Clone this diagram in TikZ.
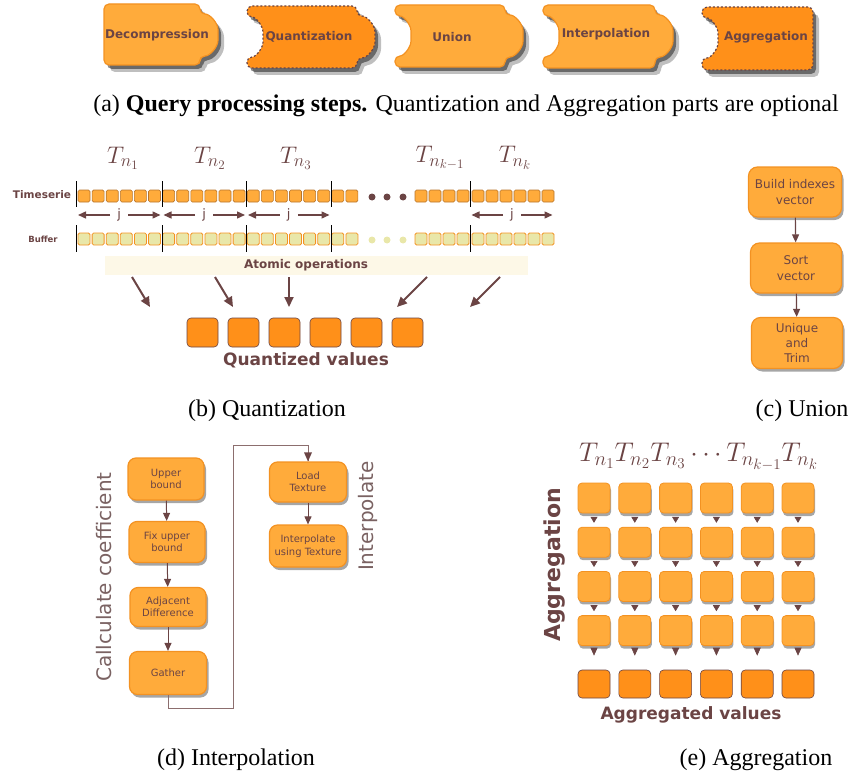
\RequirePackage{fix-cm}
\documentclass[tikz,border=0pt]{standalone}
\usepackage[no-math]{fontspec}
\setmainfont{Liberation Serif}
\newfontfamily\dvs{DejaVu Sans}
\usetikzlibrary{shadows,arrows.meta}
\DeclareMathSizes{24}{24}{18}{13}
\DeclareMathSizes{27}{27}{20}{15}

\definecolor{lightorange}{HTML}{FFAB3B}
\definecolor{edgeorange}{HTML}{F39222}
\definecolor{darkorange}{HTML}{FF9019}
\definecolor{stepbrown}{HTML}{6B4444}
\definecolor{celledge}{HTML}{B8742A}
\definecolor{bufferfill}{HTML}{E9E7A9}
\definecolor{atomfill}{HTML}{FDF8E7}
\definecolor{wirebrown}{HTML}{8C6E6E}
\definecolor{labelgray}{HTML}{7A6262}

\tikzset{
  piece/.style={fill=lightorange,draw=edgeorange,line width=1.2pt,rounded corners=5pt,
    drop shadow={shadow xshift=3pt,shadow yshift=-4pt,opacity=.45,fill=black},
    drop shadow={shadow xshift=6pt,shadow yshift=-7pt,opacity=.25,fill=black}},
  optpiece/.style={piece,fill=darkorange,draw=stepbrown,dash pattern=on 2pt off 2pt},
  steptext/.style={font=\dvs\bfseries\fontsize{12}{14}\selectfont,text=stepbrown},
  flowbox/.style={rectangle,rounded corners=9pt,fill=lightorange,draw=edgeorange,line width=1.2pt,
    text=stepbrown,align=center,inner sep=2pt,
    drop shadow={shadow xshift=2pt,shadow yshift=-3pt,opacity=.35,fill=black}},
  flowarrow/.style={draw=stepbrown,line width=1.2pt,-{Triangle[length=8pt,width=7pt]}},
  caption/.style={font=\fontsize{24}{28}\selectfont,text=black}
}

% tab on the right side, notch on the left side
\newcommand{\tabpart}[2]{(#1,#2-21) .. controls (#1+10,#2-21) and (#1+18,#2-12) .. (#1+18,#2)
    .. controls (#1+18,#2+12) and (#1+10,#2+21) .. (#1,#2+21)}
\newcommand{\notchpart}[2]{(#1,#2+20) .. controls (#1+9,#2+20) and (#1+16,#2+11) .. (#1+16,#2)
    .. controls (#1+16,#2-11) and (#1+9,#2-20) .. (#1,#2-20)}

\begin{document}
\begin{tikzpicture}[x=1pt,y=-1pt]
    \useasboundingbox (0,0) rectangle (850,778);

    %Shape: Puzzle pieces (a)
    \path[piece] (152,4) -- (200,4) -- \tabpart{200}{35} -- (200,65) -- (104,65) -- (104,4) -- cycle;
    \path[optpiece] (302,6) -- (357,6) -- \tabpart{357}{37} -- (357,68) -- (247,68) -- \notchpart{247}{37} -- (247,6) -- cycle;
    \path[piece] (450,5) -- (505,5) -- \tabpart{505}{36} -- (505,67) -- (395,67) -- \notchpart{395}{36} -- (395,5) -- cycle;
    \path[piece] (599,5) -- (655,5) -- \tabpart{655}{36} -- (655,68) -- (543,68) -- \notchpart{543}{36} -- (543,5) -- cycle;
    \path[optpiece] (757,7) -- (813,7) -- (813,70) -- (702,70) -- \notchpart{702}{38} -- (702,7) -- cycle;
    % Text Node
    \node[steptext] (decomp) at (157,35) {Decompression};
    \node[steptext] (quant) at (309,37) {Quantization};
    \node[steptext] (union) at (452,37) {Union};
    \node[steptext] (interp) at (606,34) {Interpolation};
    \node[steptext] (aggr) at (766,37) {Aggregation};
    % Text Node
    \node[caption] (capa) at (466,106) {(a) \textbf{Query processing steps.} Quantization and Aggregation parts are optional};

    %Shape: Timeserie and Buffer cells (b)
    \foreach \i in {0,...,19} {
      \draw[fill=lightorange,draw=celledge,line width=.6pt,rounded corners=1.5pt] ({78+14.1*\i},190) rectangle ++(12,12);
      \draw[fill=bufferfill,draw=edgeorange,line width=.8pt,rounded corners=1.5pt] ({78+14.1*\i},233) rectangle ++(12,12);
    }
    \foreach \x in {415,429,443,457,472,486,500,514,528,542} {
      \draw[fill=lightorange,draw=celledge,line width=.6pt,rounded corners=1.5pt] (\x,190) rectangle ++(12,12);
      \draw[fill=bufferfill,draw=edgeorange,line width=.8pt,rounded corners=1.5pt] (\x,233) rectangle ++(12,12);
    }
    \foreach \x in {372,387,403} {
      \fill[stepbrown] (\x,197) circle (3.5);
      \fill[bufferfill] (\x,240) circle (3.5);
    }
    %Straight Lines: group borders
    \foreach \x in {76.5,162,246.5,331,470} {
      \draw[black,line width=.8pt] (\x,181) -- (\x,207) (\x,225) -- (\x,252);
    }
    % j arrows
    \foreach \a/\b/\n in {76.5/162/1,162/246.5/2,246.5/331/3,470/554/4} {
      \node[font=\dvs\fontsize{13}{15}\selectfont,text=stepbrown,inner xsep=7pt,inner ysep=1pt] (j\n) at ({(\a+\b)/2},215) {j};
      \coordinate (jl\n) at (\a+1.5,215);
      \coordinate (jr\n) at (\b-1.5,215);
      \draw[flowarrow,line width=1.4pt] (j\n.west) -- (jl\n);
      \draw[flowarrow,line width=1.4pt] (j\n.east) -- (jr\n);
    }
    % Text Node
    \node[font=\dvs\bfseries\fontsize{10.5}{12}\selectfont,text=stepbrown] (tslabel) at (42,195) {Timeserie};
    \node[font=\dvs\bfseries\fontsize{8.5}{10}\selectfont,text=stepbrown] (buflabel) at (43,239) {Buffer};
    \foreach \x/\t in {123/{T_{n_1}},210/{T_{n_2}},296/{T_{n_3}},440/{T_{n_{k-1}}},515/{T_{n_k}}} {
      \node[font=\fontsize{24}{28}\selectfont,text=stepbrown] at (\x,158) {$\t$};
    }
    %Shape: Atomic operations band
    \fill[atomfill] (105,256) rectangle (528,275);
    \node[font=\dvs\bfseries\fontsize{12}{14}\selectfont,text=stepbrown] (atomic) at (306,265) {Atomic operations};
    \foreach \sx/\ex/\ey [count=\k] in {132/150/307,215/233/307,289/289/307,427/397/307,500/470/307} {
      \coordinate (as\k) at (\sx,277);
      \coordinate (ae\k) at (\ex,\ey);
      \draw[draw=stepbrown,line width=2pt,-{Triangle[length=10pt,width=9pt]}] (as\k) -- (ae\k);
    }
    %Shape: Quantized values
    \foreach \i in {0,...,5} {
      \node[rectangle,rounded corners=4pt,fill=darkorange,draw=stepbrown,line width=.6pt,
        minimum width=31pt,minimum height=29pt] (q\i) at ({202.5+41*\i},332.5) {};
    }
    \node[font=\dvs\bfseries\fontsize{17}{19}\selectfont,text=stepbrown] (qvalues) at (306,360) {Quantized values};
    % Text Node
    \node[caption] (capb) at (267,411) {(b) Quantization};

    %Union flowchart (c)
    \node[flowbox,minimum width=93pt,minimum height=50pt,font=\dvs\fontsize{12}{16}\selectfont] (build) at (795,192) {Build indexes\\vector};
    \node[flowbox,minimum width=91pt,minimum height=50pt,font=\dvs\fontsize{12}{16}\selectfont] (sort) at (796,268) {Sort\\vector};
    \node[flowbox,minimum width=91pt,minimum height=51pt,font=\dvs\fontsize{12}{15}\selectfont] (unique) at (797,343) {Unique\\and\\Trim};
    \draw[flowarrow] (build) -- (sort);
    \draw[flowarrow] (sort) -- (unique);
    % Text Node
    \node[caption] (capc) at (802,411) {(c) Union};

    %Interpolation flowchart (d)
    \node[flowbox,rounded corners=8pt,minimum width=76pt,minimum height=42pt,font=\dvs\fontsize{10}{12.5}\selectfont] (upper) at (166,479) {Upper\\bound};
    \node[flowbox,rounded corners=8pt,minimum width=76pt,minimum height=41pt,font=\dvs\fontsize{10}{12.5}\selectfont] (fixup) at (167,542) {Fix upper\\bound};
    \node[flowbox,rounded corners=8pt,minimum width=76pt,minimum height=39pt,font=\dvs\fontsize{10}{12.5}\selectfont] (adjdiff) at (168,607) {Adjacent\\Difference};
    \node[flowbox,rounded corners=8pt,minimum width=77pt,minimum height=43pt,font=\dvs\fontsize{10}{12.5}\selectfont] (gather) at (168,673) {Gather};
    \node[flowbox,rounded corners=8pt,minimum width=77pt,minimum height=40pt,font=\dvs\fontsize{10}{12.5}\selectfont] (loadtex) at (308,482) {Load\\Texture};
    \node[flowbox,rounded corners=8pt,minimum width=77pt,minimum height=42pt,font=\dvs\fontsize{10}{12.5}\selectfont] (usetex) at (308,546) {Interpolate\\using Texture};
    \draw[flowarrow,line width=1pt] (upper) -- (fixup);
    \draw[flowarrow,line width=1pt] (fixup) -- (adjdiff);
    \draw[flowarrow,line width=1pt] (adjdiff) -- (gather);
    \draw[flowarrow,line width=1pt] (loadtex) -- (usetex);
    \coordinate (wirelow) at (233,708);
    \coordinate (wirehigh) at (233,445);
    \draw[draw=wirebrown,line width=.9pt] (gather.south) |- (wirelow) -- (wirehigh) -| (loadtex.north);
    \fill[stepbrown] (loadtex.north) -- ++(-4,-9) -- ++(8,0) -- cycle;
    % Text Node
    \node[font=\dvs\fontsize{20}{24}\selectfont,text=labelgray,rotate=90] (calclabel) at (104,577) {Callculate coefficient};
    \node[font=\dvs\fontsize{20}{24}\selectfont,text=labelgray,rotate=90] (interplabel) at (368,516) {Interpolate};
    \node[caption] (capd) at (236,760) {(d) Interpolation};

    %Aggregation grid (e)
    \begin{scope}
      \clip (560,430) rectangle (820,480);
      \node[font=\fontsize{27}{31}\selectfont,text=stepbrown,anchor=west,inner sep=0pt] (tseries) at (579,457) {$T_{n_1}T_{n_2}T_{n_3}\cdots T_{n_{k-1}}T_{n_k}$};
    \end{scope}
    \foreach \c in {0,...,5} {
      \foreach \r in {0,...,3} {
        \node[rectangle,rounded corners=4pt,fill=lightorange,draw=edgeorange,line width=.8pt,
          minimum width=32pt,minimum height=30pt,
          drop shadow={shadow xshift=1pt,shadow yshift=-3pt,opacity=.35,fill=black}] (g\r\c) at ({594+40.8*\c},{498+44.2*\r}) {};
      }
      \node[rectangle,rounded corners=4pt,fill=darkorange,draw=stepbrown,line width=.6pt,
        minimum width=32pt,minimum height=28pt] (av\c) at ({594+40.8*\c},684) {};
      \foreach \r/\s in {0/1,1/2,2/3} {
        \draw[draw=stepbrown,line width=.6pt,shorten <=4pt,shorten >=4pt,-{Triangle[length=6pt,width=7pt]}] (g\r\c) -- (g\s\c);
      }
      \draw[draw=stepbrown,line width=.6pt,shorten <=3pt,shorten >=14pt,-{Triangle[length=8pt,width=7pt]}] (g3\c) -- (av\c);
    }
    \node[font=\dvs\bfseries\fontsize{22}{26}\selectfont,text=stepbrown,rotate=90] (agglabel) at (555,565) {Aggregation};
    \node[font=\dvs\bfseries\fontsize{17}{19}\selectfont,text=stepbrown] (avalues) at (691,715) {Aggregated values};
    % Text Node
    \node[caption] (cape) at (756,760) {(e) Aggregation};
\end{tikzpicture}
\end{document}
